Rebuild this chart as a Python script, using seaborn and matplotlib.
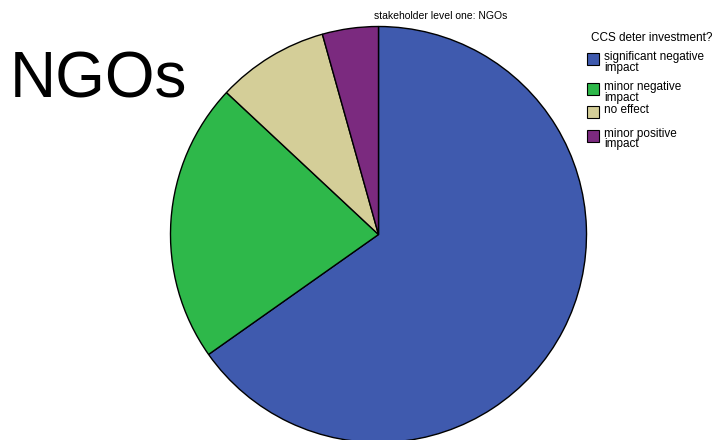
import matplotlib
matplotlib.use("Agg")
import matplotlib.pyplot as plt
from matplotlib.patches import Rectangle
import seaborn as sns

sns.set_theme(style="white")
plt.rcParams['font.family'] = ['Liberation Sans', 'DejaVu Sans']

categories = ["significant negative\nimpact", "minor negative\nimpact", "no effect", "minor positive\nimpact"]
counts = [15, 5, 2, 1]
colors = ["#3F5AAE", "#2EB84A", "#D4CE98", "#7B2A7F"]
legend_title = "CCS deter investment?"
chart_title = "stakeholder level one: NGOs"
big_label = "NGOs"

W, H = 719, 440
fig = plt.figure(figsize=(W / 100, H / 100), dpi=100)
ax = fig.add_axes([0, 0, 1, 1])

cx, cy, r = 378.5, 234.5, 208.0
wedges, _ = ax.pie(counts, colors=colors, startangle=90, counterclock=False,
                   wedgeprops=dict(edgecolor="black", linewidth=1.0))
ax.set_aspect("auto")
ax.set_xlim(-cx / r, (W - cx) / r)
ax.set_ylim(-(H - cy) / r, cy / r)
ax.axis("off")


def fy(y):
    return 1 - y / H


fig.text(10 / W, fy(98), big_label, fontsize=46, ha="left", va="baseline", color="black")
fig.text(441 / W, fy(19), chart_title, fontsize=7.5, ha="center", va="baseline", color="black")

# legend drawn manually (handles top-aligned with labels, as in the reference)
fig.text(591 / W, fy(41), legend_title, fontsize=8.5, ha="left", va="baseline", color="black")
tops = [53, 83, 106, 130]
for lab, col, top in zip(categories, colors, tops):
    fig.patches.append(Rectangle((587 / W, fy(top + 12)), 11.5 / W, 12 / H,
                                 facecolor=col, edgecolor="black", linewidth=0.8,
                                 transform=fig.transFigure, figure=fig))
    for k, line in enumerate(lab.split("\n")):
        fig.text(604 / W, fy(top + 7 + 10.5 * k), line, fontsize=8.5, ha="left",
                 va="baseline", color="black")

fig.savefig("out.png", dpi=100)
